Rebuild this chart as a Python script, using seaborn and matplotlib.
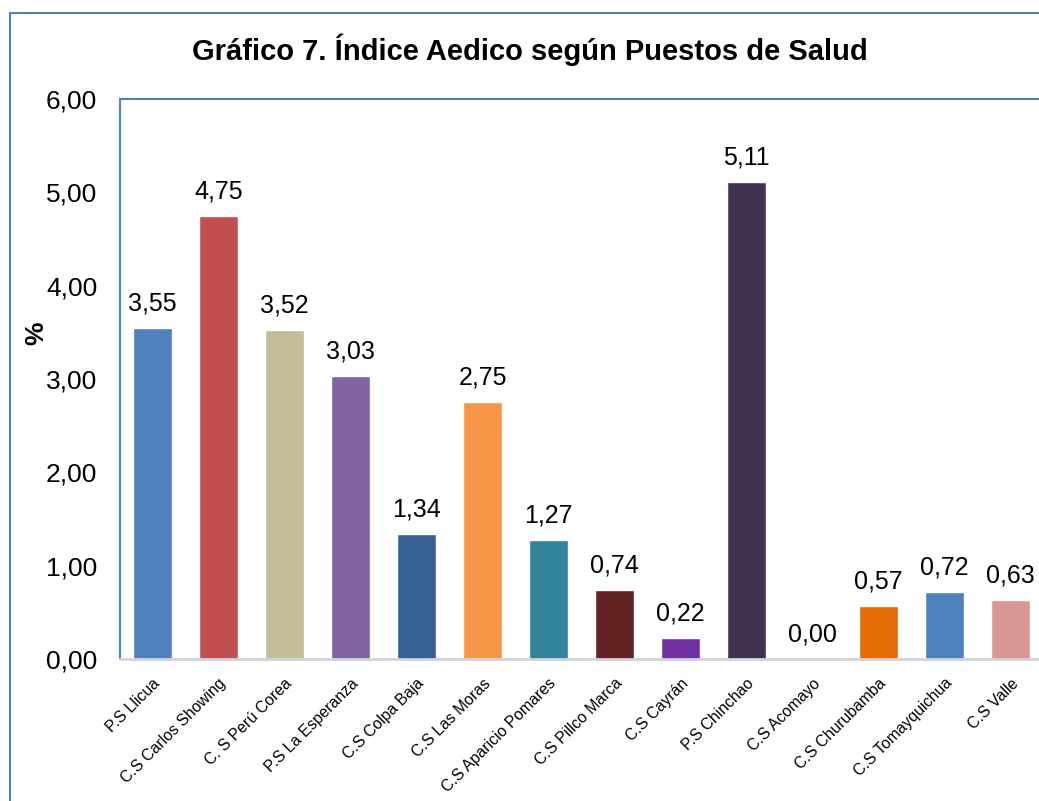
import matplotlib
matplotlib.use("Agg")
import matplotlib.pyplot as plt
import seaborn as sns
import pandas as pd
from matplotlib.lines import Line2D
from matplotlib.ticker import FuncFormatter

categories = ["P.S Llicua", "C.S Carlos Showing", "C. S Perú Corea", "P.S La Esperanza",
              "C.S Colpa Baja", "C.S Las Moras", "C.S Aparicio Pomares", "C.S Pillco Marca",
              "C.S Cayrán", "P.S Chinchao", "C.S Acomayo", "C.S Churubamba",
              "C.S Tomayquichua", "C.S Valle"]
values = [3.55, 4.75, 3.52, 3.03, 1.34, 2.75, 1.27, 0.74, 0.22, 5.11, 0.00, 0.57, 0.72, 0.63]
colors = ["#4F81BD", "#C0504D", "#C4BD97", "#8064A2", "#366092", "#F79646", "#31849B",
          "#632523", "#7030A0", "#403151", "#A6A6A6", "#E36C09", "#4F81BD", "#D99694"]
title = "Gráfico 7. Índice Aedico según Puestos de Salud"
ylabel = "%"

sns.set_style("white")
plt.rcParams['font.family'] = ['Liberation Sans', 'DejaVu Sans']
plt.rcParams['text.color'] = 'black'
plt.rcParams['axes.labelcolor'] = 'black'
plt.rcParams['xtick.color'] = 'black'
plt.rcParams['ytick.color'] = 'black'

df = pd.DataFrame({"cat": categories, "val": values})

fig = plt.figure(figsize=(10.39, 8.01), dpi=100)
ax = fig.add_axes([119.5/1039, 142/801, (1043.5-119.5)/1039, (659-99)/801])

sns.barplot(data=df, x="cat", y="val", hue="cat", palette=colors, legend=False,
            width=0.59, saturation=1, ax=ax)

ax.set_ylim(0, 6)
ax.set_xlim(-0.5, len(categories) - 0.5)
ax.set_yticks([0, 1, 2, 3, 4, 5, 6])
ax.yaxis.set_major_formatter(FuncFormatter(lambda v, p: f"{v:.2f}".replace('.', ',')))
ax.tick_params(axis='y', labelsize=19, length=0, pad=16, labelcolor='black')
ax.tick_params(axis='x', labelsize=11.3, length=0, pad=12, labelcolor='black')
for lab in ax.get_xticklabels():
    lab.set_rotation(45)
    lab.set_ha('right')
    lab.set_rotation_mode('anchor')
ax.set_xlabel("")
ax.set_ylabel(ylabel, fontsize=19, fontweight='bold', color='black')
ax.yaxis.set_label_coords(-0.0774, 0.582)

for s in ["left", "top", "right"]:
    ax.spines[s].set_color("#4F81BD")
    ax.spines[s].set_linewidth(1.5)
ax.spines["bottom"].set_color("#D0D3D9")
ax.spines["bottom"].set_linewidth(2)

for i, v in enumerate(values):
    ax.annotate(f"{v:.2f}".replace('.', ','), (i, v), xytext=(0, 9),
                textcoords='offset points', ha='center', va='bottom', fontsize=18,
                color='black')

fig.text(0.51, 0.9376, title, ha='center', va='center', fontsize=21, fontweight='bold',
         color='black')

fig.add_artist(Line2D([10/1039, 10/1039], [0, 788/801], transform=fig.transFigure,
                      color="#4F81BD", linewidth=1.5))
fig.add_artist(Line2D([10/1039, 1], [788/801, 788/801], transform=fig.transFigure,
                      color="#4F81BD", linewidth=1.5))

fig.savefig("out.png", dpi=100)
